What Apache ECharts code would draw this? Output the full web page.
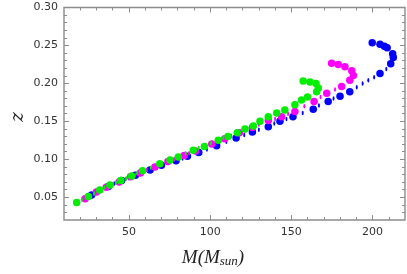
<!DOCTYPE html>
<html><head><meta charset="utf-8">
<script src="https://cdn.jsdelivr.net/npm/echarts@6/dist/echarts.min.js"></script>
<style>html,body{margin:0;padding:0;background:#fff}#c{width:407px;height:274px}</style>
</head><body><div id="c"></div>
<script>
var xMajor = [50, 100, 150, 200];
var xMinor = [20, 30, 40, 60, 70, 80, 90, 110, 120, 130, 140, 160, 170, 180, 190, 210];
var yMajor = [0.05, 0.10, 0.15, 0.20, 0.25, 0.30];
var yMinor = [0.03, 0.04, 0.06, 0.07, 0.08, 0.09, 0.11, 0.12, 0.13, 0.14, 0.16, 0.17, 0.18, 0.19, 0.21, 0.22, 0.23, 0.24, 0.26, 0.27, 0.28, 0.29];

var blueDots = [[27,0.053],[37.3,0.064],[45.5,0.072],[54,0.079],[63,0.086],[70,0.092],[79,0.098],[86,0.104],[93,0.109],[104,0.118],[116,0.128],[126,0.136],[135.8,0.143],[143,0.150],[151,0.156],[163.5,0.166],[172.7,0.176],[180,0.183],[186,0.189],[204.6,0.213],[211.2,0.226],[212.8,0.234],[212.4,0.239],[209,0.247],[207.3,0.249],[204.6,0.2515],[199.8,0.2537]];
var blueDashes = [[22,0.047],[32,0.058],[41,0.068],[50,0.075],[58,0.082],[67,0.089],[74,0.095],[83,0.101],[98,0.113],[110,0.123],[121,0.132],[130,0.139],[139.5,0.147],[147,0.153],[157,0.161],[167,0.171],[176,0.180],[190.3,0.195],[193.9,0.200],[197.4,0.204],[201,0.208],[208.5,0.219]];
var magentaDots = [[23,0.048],[30,0.057],[36,0.063],[44,0.070],[51,0.077],[57,0.082],[66,0.090],[74,0.097],[84,0.105],[91,0.111],[101,0.120],[109,0.127],[118,0.135],[126,0.142],[135.8,0.151],[144,0.156],[152.2,0.163],[164,0.176],[171.8,0.187],[181,0.196],[186,0.204],[188.2,0.2105],[187.2,0.2165],[183,0.222],[178.9,0.225],[174.8,0.2264]];
var magentaDashes = [[26.5,0.052],[33,0.060],[40,0.067],[48,0.074],[54,0.080],[61,0.086],[70,0.094],[78,0.100],[87,0.108],[96,0.116],[105,0.124],[113,0.131],[122,0.138],[130,0.146],[140,0.153],[148,0.160],[158,0.170],[168,0.182],[176.9,0.192]];
var greenDots = [[17.8,0.043],[25,0.051],[32,0.0595],[38.3,0.066],[45,0.072],[51.7,0.078],[58.4,0.085],[69,0.094],[75.3,0.099],[80.4,0.103],[89.6,0.112],[96.5,0.117],[105,0.125],[111,0.130],[116.7,0.135],[121.5,0.140],[126.6,0.144],[130.7,0.150],[135.8,0.156],[141,0.161],[146,0.165],[152.2,0.172],[156.3,0.178],[160,0.182],[165.6,0.189],[166.6,0.194],[165.2,0.200],[161.5,0.202],[157.3,0.203]];
var greenDashes = [[21,0.047],[28.5,0.055],[35,0.063],[42,0.069],[48.5,0.075],[55,0.082],[63.5,0.089],[85,0.108],[93,0.115],[100.5,0.121],[108,0.128]];

var frame = '#8c8c8c';
function xAx(pos, vals, len, labels) {
  return {type:'value', min:10, max:220, position:pos, gridIndex:0,
    axisLine:{show:false}, splitLine:{show:false},
    axisTick:{show:true, inside:true, length:len, customValues:vals, lineStyle:{color:frame, width:1}},
    axisLabel:{show:labels, customValues:xMajor, color:'#333', fontSize:11, fontFamily:'DejaVu Sans', margin:7}};
}
function yAx(pos, vals, len, labels) {
  return {type:'value', min:0.02, max:0.30, position:pos, gridIndex:0,
    axisLine:{show:false}, splitLine:{show:false},
    axisTick:{show:true, inside:true, length:len, customValues:vals, lineStyle:{color:frame, width:1}},
    axisLabel:{show:labels, customValues:yMajor, color:'#333', fontSize:11, fontFamily:'DejaVu Sans', margin:6,
      formatter:function(v){return v.toFixed(2);}}};
}
function ser(data, color, size, z) {
  return {type:'scatter', data:data, symbol:'circle', symbolSize:size, xAxisIndex:0, yAxisIndex:0, z:z,
    itemStyle:{color:color, opacity:1}, silent:true, animation:false};
}
var chart = echarts.init(document.getElementById('c'));
chart.setOption({
  animation:false,
  grid:{left:64, right:2, top:7.5, bottom:54, show:true, borderColor:frame, borderWidth:1.4, backgroundColor:'transparent'},
  xAxis:[xAx('bottom', xMajor, 5, true), xAx('bottom', xMinor, 3, false), xAx('top', xMajor, 5, false), xAx('top', xMinor, 3, false)],
  yAxis:[yAx('left', yMajor, 5, true), yAx('left', yMinor, 3, false), yAx('right', yMajor, 5, false), yAx('right', yMinor, 3, false)],
  series:[
    ser(blueDashes, '#0000ff', [2,4.5], 2), ser(blueDots, '#0000ff', 7.5, 2),
    ser(magentaDashes, '#ff00ff', [2,4.5], 3), ser(magentaDots, '#ff00ff', 7.5, 3),
    ser(greenDashes, '#00ee00', [2,4.5], 4), ser(greenDots, '#00ee00', 7.5, 4)
  ],
  graphic:[
    {type:'text', x:18, y:117, rotation:Math.PI/2, style:{text:'z', font:'italic 18px "DejaVu Serif"', fill:'#222', align:'center', verticalAlign:'middle'}},
    {type:'text', x:213, y:258, style:{text:'{a|M(M}{b|sun}{a|)}', align:'center', verticalAlign:'middle',
      rich:{a:{font:'italic 19px "Liberation Serif"', fill:'#222'}, b:{font:'italic 13px "Liberation Serif"', fill:'#222', padding:[8,0,0,0]}}}}
  ]
});
</script></body></html>
